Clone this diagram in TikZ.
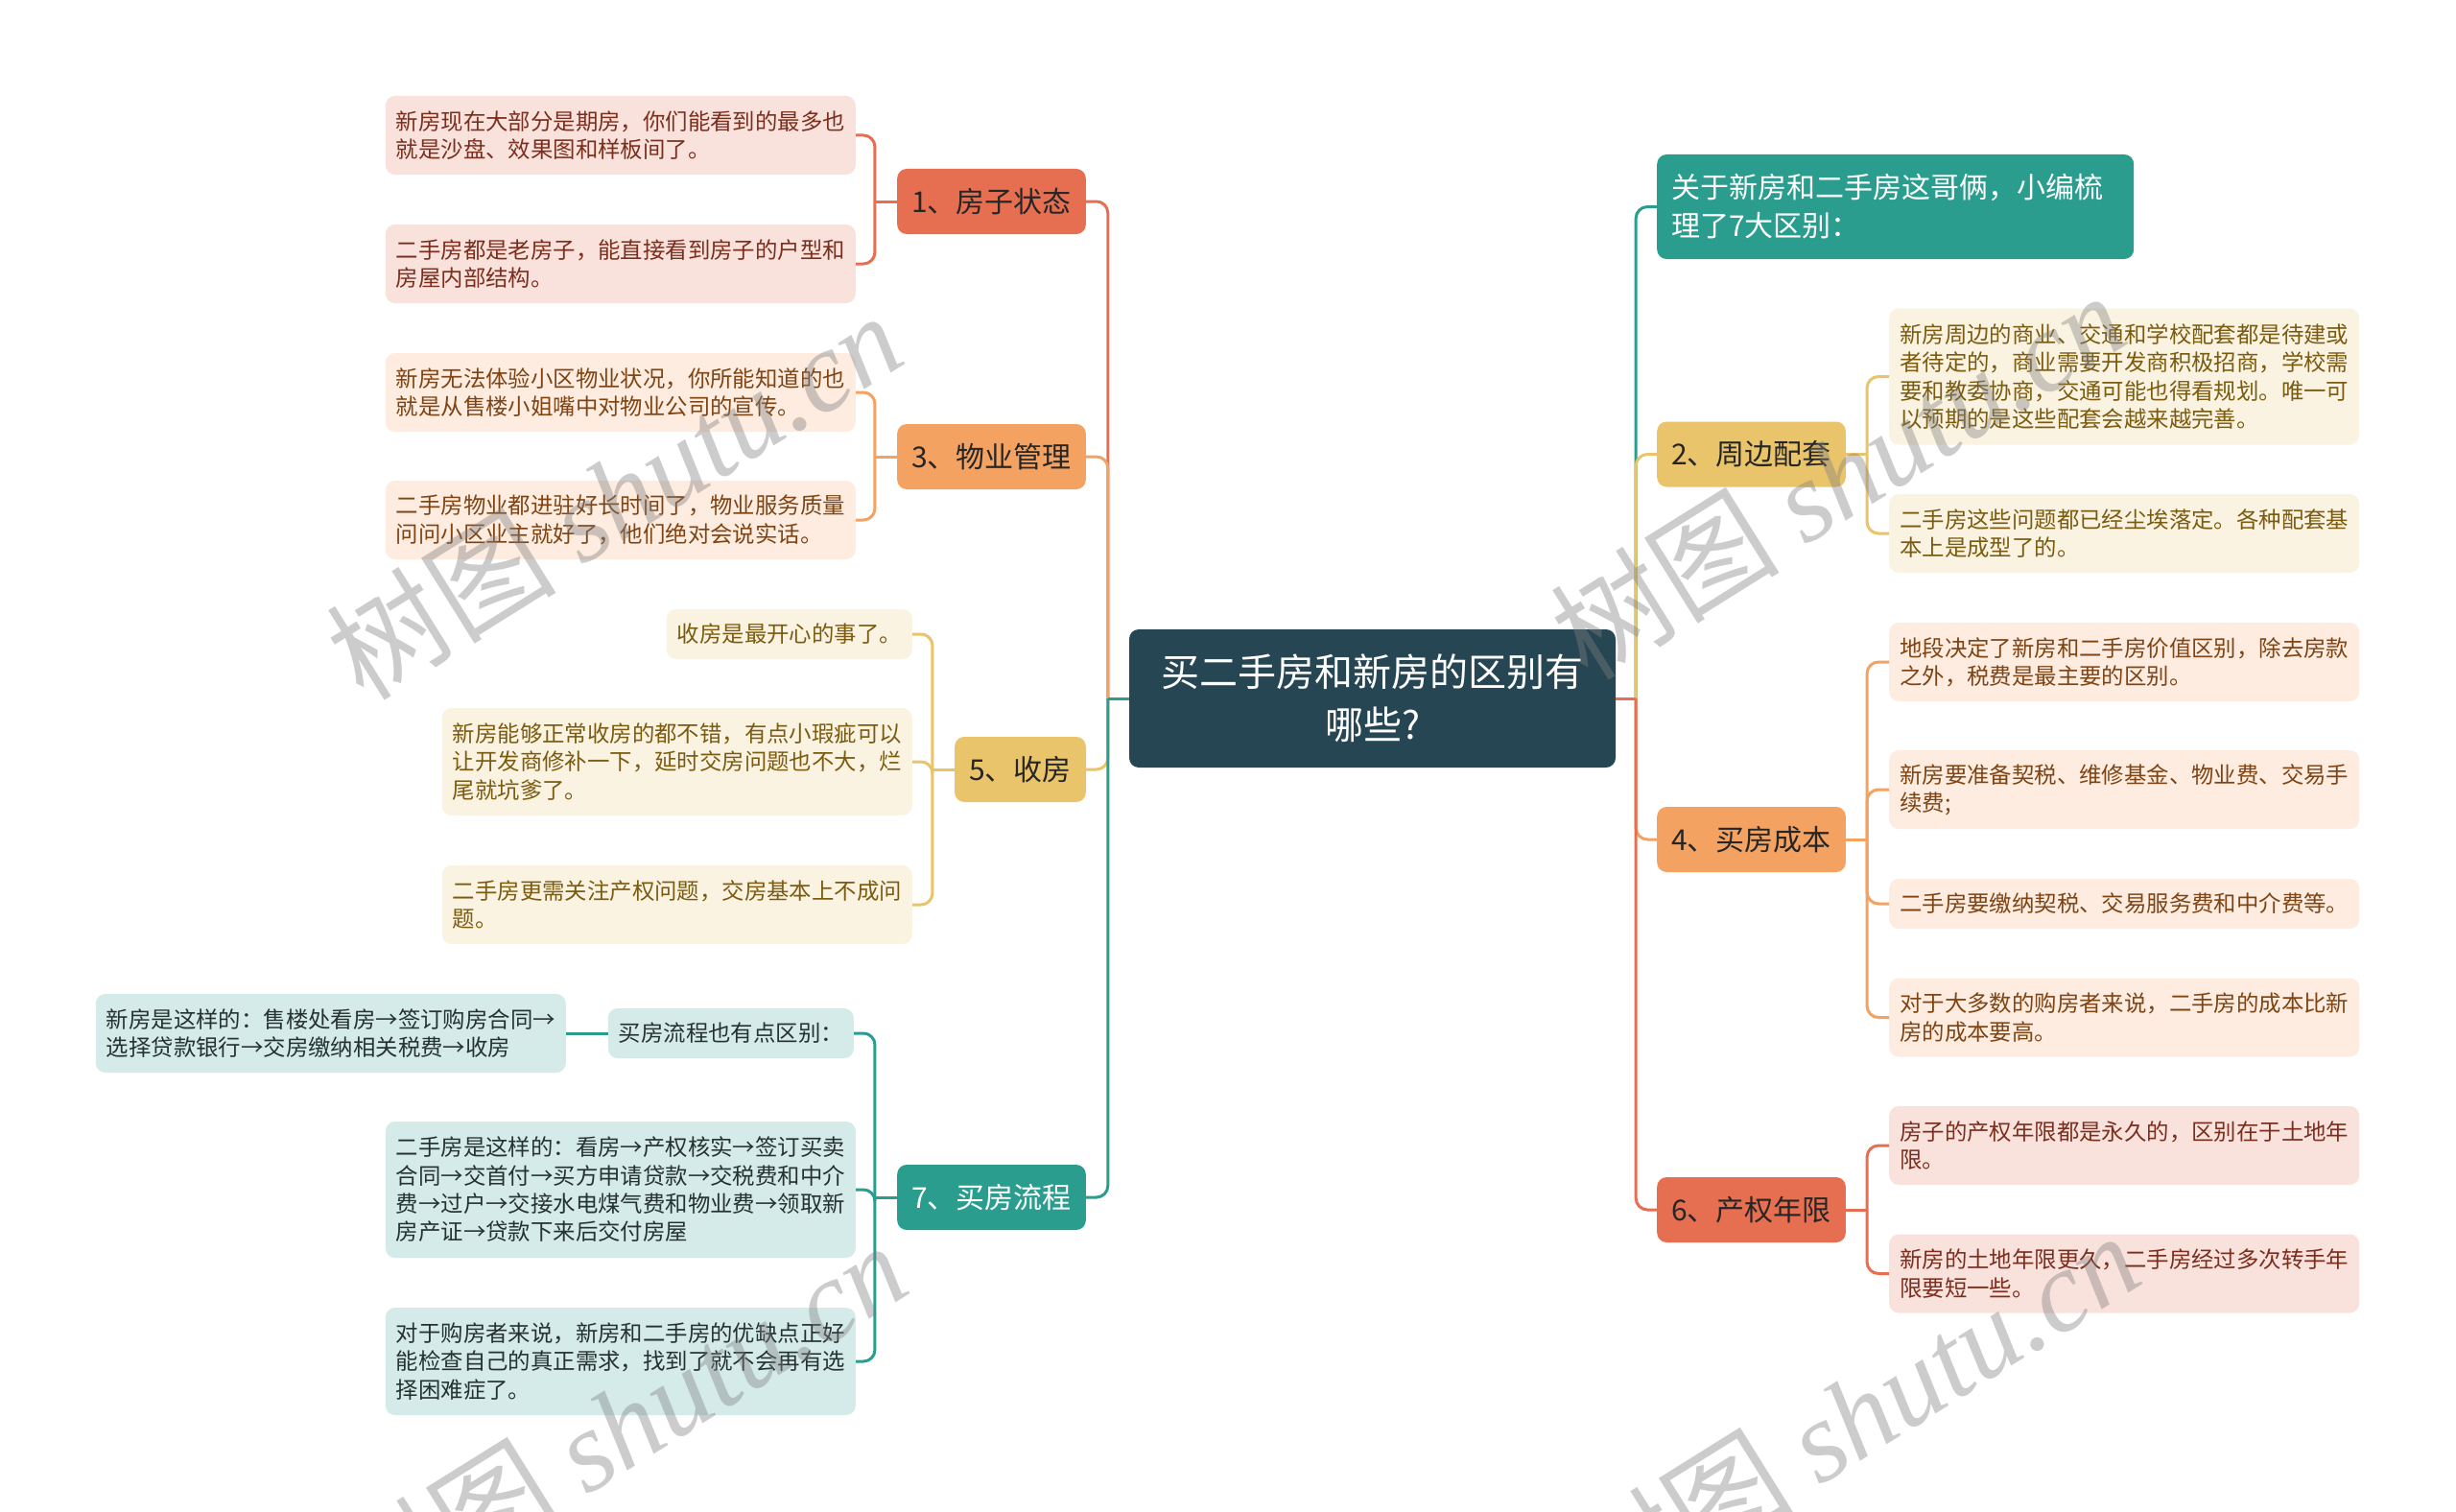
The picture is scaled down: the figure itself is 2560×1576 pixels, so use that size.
\documentclass[tikz,border=0pt]{standalone}
\usepackage{fontspec}
\setmainfont{Noto Sans CJK SC}
\newfontfamily\wmlatin{Liberation Serif}
\usetikzlibrary{positioning}

\definecolor{hubblue}{HTML}{264653}
\definecolor{teal}{HTML}{2A9D8F}
\definecolor{sand}{HTML}{E9C46A}
\definecolor{apricot}{HTML}{F4A261}
\definecolor{coral}{HTML}{E76F51}
\definecolor{coraltext}{HTML}{7A2E1E}
\definecolor{apricottext}{HTML}{7E4414}
\definecolor{sandtext}{HTML}{7A5B10}
\definecolor{tealtext}{HTML}{263230}

\begin{document}
\begin{tikzpicture}[x=1pt, y=-1pt,
    hub/.style={fill=hubblue, text=white, rounded corners=10pt, minimum width=507pt, minimum height=144pt, align=center, font=\fontsize{40}{55}\selectfont},
    branch/.style={rounded corners=10pt, minimum height=68pt, inner xsep=15pt, text=black!85, font=\fontsize{30}{36}\selectfont},
    leaf/.style={rounded corners=10pt, inner xsep=11pt, inner ysep=6pt, align=left, font=\fontsize{23.4}{29.3}\selectfont},
    wide/.style={text width=468pt},
    oneline/.style={minimum height=52pt},
    twoline/.style={minimum height=82pt},
    threeline/.style={minimum height=112pt},
    fourline/.style={minimum height=142pt},
    coralbranch/.style={branch, fill=coral},
    apricotbranch/.style={branch, fill=apricot},
    sandbranch/.style={branch, fill=sand},
    tealbranch/.style={branch, fill=teal, text=white},
    coralleaf/.style={leaf, fill=coral!20, text=coraltext},
    apricotleaf/.style={leaf, fill=apricot!20, text=apricottext},
    sandleaf/.style={leaf, fill=sand!20, text=sandtext},
    tealleaf/.style={leaf, fill=teal!20, text=tealtext},
    coralline/.style={draw=coral, line width=3pt, rounded corners=12pt},
    apricotline/.style={draw=apricot, line width=3pt, rounded corners=12pt},
    sandline/.style={draw=sand, line width=3pt, rounded corners=12pt},
    tealline/.style={draw=teal, line width=3pt, rounded corners=12pt},
    wm/.style={text=black!50, opacity=0.4, rotate=32, font=\fontsize{120}{120}\selectfont}
]
\fill[white] (0,0) rectangle (2560,1576);
\useasboundingbox (0,0) rectangle (2560,1576);

% Central topic
\node[hub] (hub) at (1430.5,728) {买二手房和新房的区别有\\哪些?};
\coordinate (tl) at ([xshift=-22pt]hub.west);
\coordinate (tr) at ([xshift=21pt]hub.east);

% Left branches
\node[coralbranch, anchor=east] (n1) at (1132,210) {1、房子状态};
\node[apricotbranch, anchor=east] (n3) at (1132,476) {3、物业管理};
\node[sandbranch, anchor=east] (n5) at (1132,802) {5、收房};
\node[tealbranch, anchor=east] (n7) at (1132,1248) {7、买房流程};

% Right branches
\node[tealbranch, anchor=west, text width=467pt, align=left, minimum height=109pt, font=\fontsize{30}{40}\selectfont] (ntop) at (1727,215.5) {关于新房和二手房这哥俩，小编梳\\理了7大区别：};
\node[sandbranch, anchor=west] (n2) at (1727,473.5) {2、周边配套};
\node[apricotbranch, anchor=west] (n4) at (1727,875) {4、买房成本};
\node[coralbranch, anchor=west] (n6) at (1727,1261) {6、产权年限};

% Leaves of 1
\node[coralleaf, wide, twoline, anchor=east] (l1a) at (892,141) {新房现在大部分是期房，你们能看到的最多也\\就是沙盘、效果图和样板间了。};
\node[coralleaf, wide, twoline, anchor=east] (l1b) at (892,275) {二手房都是老房子，能直接看到房子的户型和\\房屋内部结构。};

% Leaves of 3
\node[apricotleaf, wide, twoline, anchor=east] (l3a) at (892,409) {新房无法体验小区物业状况，你所能知道的也\\就是从售楼小姐嘴中对物业公司的宣传。};
\node[apricotleaf, wide, twoline, anchor=east] (l3b) at (892,542) {二手房物业都进驻好长时间了，物业服务质量\\问问小区业主就好了，他们绝对会说实话。};

% Leaves of 5
\node[sandleaf, oneline, anchor=east] (l5a) at (951,661) {收房是最开心的事了。};
\node[sandleaf, wide, threeline, anchor=east] (l5b) at (951,794) {新房能够正常收房的都不错，有点小瑕疵可以\\让开发商修补一下，延时交房问题也不大，烂\\尾就坑爹了。};
\node[sandleaf, wide, twoline, anchor=east] (l5c) at (951,943) {二手房更需关注产权问题，交房基本上不成问\\题。};

% Leaves of 7
\node[tealleaf, oneline, anchor=east] (l7a) at (890,1077) {买房流程也有点区别：};
\node[tealleaf, wide, twoline, anchor=east] (l7x) at (590,1077) {新房是这样的：售楼处看房→签订购房合同→\\选择贷款银行→交房缴纳相关税费→收房};
\node[tealleaf, wide, fourline, anchor=east] (l7b) at (892,1240) {二手房是这样的：看房→产权核实→签订买卖\\合同→交首付→买方申请贷款→交税费和中介\\费→过户→交接水电煤气费和物业费→领取新\\房产证→贷款下来后交付房屋};
\node[tealleaf, wide, threeline, anchor=east] (l7c) at (892,1419) {对于购房者来说，新房和二手房的优缺点正好\\能检查自己的真正需求，找到了就不会再有选\\择困难症了。};

% Leaves of 2
\node[sandleaf, wide, fourline, anchor=west] (l2a) at (1969,392.5) {新房周边的商业、交通和学校配套都是待建或\\者待定的，商业需要开发商积极招商，学校需\\要和教委协商，交通可能也得看规划。唯一可\\以预期的是这些配套会越来越完善。};
\node[sandleaf, wide, twoline, anchor=west] (l2b) at (1969,556) {二手房这些问题都已经尘埃落定。各种配套基\\本上是成型了的。};

% Leaves of 4
\node[apricotleaf, wide, twoline, anchor=west] (l4a) at (1969,690) {地段决定了新房和二手房价值区别，除去房款\\之外，税费是最主要的区别。};
\node[apricotleaf, wide, twoline, anchor=west] (l4b) at (1969,823) {新房要准备契税、维修基金、物业费、交易手\\续费;};
\node[apricotleaf, wide, oneline, anchor=west] (l4c) at (1969,942) {二手房要缴纳契税、交易服务费和中介费等。};
\node[apricotleaf, wide, twoline, anchor=west] (l4d) at (1969,1060.5) {对于大多数的购房者来说，二手房的成本比新\\房的成本要高。};

% Leaves of 6
\node[coralleaf, wide, twoline, anchor=west] (l6a) at (1969,1194) {房子的产权年限都是永久的，区别在于土地年\\限。};
\node[coralleaf, wide, twoline, anchor=west] (l6b) at (1969,1327.5) {新房的土地年限更久，二手房经过多次转手年\\限要短一些。};

% Trunk connectors
\draw[coralline] (tl) |- (n1.east);
\draw[apricotline] (tl) |- (n3.east);
\draw[sandline] (tl) |- (n5.east);
\draw[tealline] (tl) |- (n7.east);
\draw[tealline] (hub.west) -- (tl);
\draw[tealline] (tr) |- (ntop.west);
\draw[sandline] (tr) |- (n2.west);
\draw[apricotline] (tr) |- (n4.west);
\draw[coralline] (tr) |- (n6.west);
\draw[coralline] (hub.east) -- (tr);

% Leaf brackets, left
\coordinate (b1) at ([xshift=-23pt]n1.west);
\draw[coralline] (n1.west) -- (b1);
\draw[coralline] (b1) |- (l1a.east);
\draw[coralline] (b1) |- (l1b.east);
\coordinate (b3) at ([xshift=-23pt]n3.west);
\draw[apricotline] (n3.west) -- (b3);
\draw[apricotline] (b3) |- (l3a.east);
\draw[apricotline] (b3) |- (l3b.east);
\coordinate (b5) at ([xshift=-23pt]n5.west);
\draw[sandline] (n5.west) -- (b5);
\draw[sandline] (b5) |- (l5a.east);
\draw[sandline] (b5) |- (l5b.east);
\draw[sandline] (b5) |- (l5c.east);
\coordinate (b7) at ([xshift=-23pt]n7.west);
\draw[tealline] (n7.west) -- (b7);
\draw[tealline] (b7) |- (l7a.east);
\draw[tealline] (b7) |- (l7b.east);
\draw[tealline] (b7) |- (l7c.east);
\draw[tealline] (l7a.west) -- (l7x.east);

% Leaf brackets, right
\coordinate (b2) at ([xshift=22pt]n2.east);
\draw[sandline] (n2.east) -- (b2);
\draw[sandline] (b2) |- (l2a.west);
\draw[sandline] (b2) |- (l2b.west);
\coordinate (b4) at ([xshift=22pt]n4.east);
\draw[apricotline] (n4.east) -- (b4);
\draw[apricotline] (b4) |- (l4a.west);
\draw[apricotline] (b4) |- (l4b.west);
\draw[apricotline] (b4) |- (l4c.west);
\draw[apricotline] (b4) |- (l4d.west);
\coordinate (b6) at ([xshift=22pt]n6.east);
\draw[coralline] (n6.east) -- (b6);
\draw[coralline] (b6) |- (l6a.west);
\draw[coralline] (b6) |- (l6b.west);

% Watermarks
\node[wm] (wm1) at (640,516) {树图 {\wmlatin\itshape shutu.cn}};
\node[wm] (wm2) at (1915,495) {树图 {\wmlatin\itshape shutu.cn}};
\node[wm] (wm3) at (645,1485) {树图 {\wmlatin\itshape shutu.cn}};
\node[wm] (wm4) at (1930,1475) {树图 {\wmlatin\itshape shutu.cn}};

\end{tikzpicture}
\end{document}
